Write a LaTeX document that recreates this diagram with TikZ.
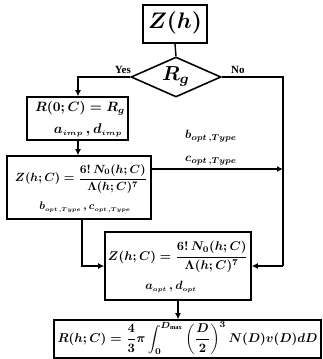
\documentclass[tikz,border=0pt]{standalone}
\usepackage{amsmath}
\usepackage{graphicx}
\usepackage{fontspec}
\setmainfont{Liberation Serif}
\usetikzlibrary{shapes.geometric,arrows.meta}
\newcommand{\fitw}[2]{\resizebox{#1}{!}{\boldmath$\displaystyle #2$}}
\newcommand{\scl}[2]{\scalebox{#1}{\boldmath$#2$}}
\newcommand{\tinysub}[1]{_{\scriptscriptstyle #1}}
\newcommand{\smallsub}[1]{_{\scriptstyle #1}}
\tikzset{
  box/.style={draw, line width=1.6pt, minimum width=#1, inner sep=0pt},
  conn/.style={line width=1.4pt},
  arr/.style={line width=1.4pt, -{Latex[length=6pt,width=6pt]}},
  txt/.style={inner sep=0pt},
  lbl/.style={inner sep=0pt, font=\fontsize{11}{12}\selectfont\bfseries},
}
\begin{document}
\begin{tikzpicture}[x=1pt,y=-1pt]
\useasboundingbox (0,0) rectangle (323,359);
% boxes
\node[box=64pt, minimum height=38pt, line width=2pt] (zh) at (175,24) {};
\node[txt] (zht) at (175,23) {\fitw{54pt}{Z(h)}};
\node[draw, diamond, aspect=2.25, line width=1.6pt, minimum width=90pt, minimum height=40pt, inner sep=0pt] (dia) at (176,77) {};
\node[txt] (rg) at (176,76) {\fitw{28pt}{R_g}};
\node[box=101pt, minimum height=43pt] (r0) at (77.5,118.5) {};
\node[txt] (r0a) at (80,108) {\fitw{90pt}{R(0;C)=R_g}};
\node[txt] (r0b) at (88,130) {\scl{1.4}{a\tinysub{imp}\,,d\tinysub{imp}}};
\node[box=144pt, minimum height=63pt] (z1) at (79,187.5) {};
\node[txt] (z1a) at (81,179) {\fitw{132pt}{Z(h;C)=\frac{6!\,N_0(h;C)}{\Lambda(h;C)^7}}};
\node[txt] (z1b) at (85,207) {\scl{1.1}{b\tinysub{opt\,,Type}\,,c\tinysub{opt\,,Type}}};
\node[box=146pt, minimum height=68pt] (z2) at (178,266) {};
\node[txt] (z2a) at (178,257) {\fitw{140pt}{Z(h;C)=\frac{6!\,N_0(h;C)}{\Lambda(h;C)^7}}};
\node[txt] (z2b) at (171,287) {\scl{1.2}{a\tinysub{opt}\,,d\tinysub{opt}}};
\node[box=267pt, minimum height=38pt] (rr) at (187.5,339) {};
\node[txt] (rrt) at (187.5,338) {\fitw{260pt}{R(h;C)=\frac{4}{3}\pi\int_0^{D_{\max}}\left(\frac{D}{2}\right)^3 N(D)v(D)dD}};
\node[txt] (bl) at (211,136) {\scl{1.2}{b\smallsub{opt\,,Type}}};
\node[txt] (cl) at (211,161) {\scl{1.2}{c\smallsub{opt\,,Type}}};
\node[lbl, anchor=south east] (yes) at (131,74) {Yes};
\node[lbl, anchor=south west] (no) at (231,74) {No};
% connectors
\coordinate (yc) at (78,77);
\coordinate (nc) at (283,77);
\coordinate (lc) at (82,266);
\coordinate (rc) at (283,266);
\coordinate (mc) at (283,169);
\draw[conn] (zh.south) -- (dia.north);
\draw[arr] (dia.west) -- (yc) -- (r0.north -| yc);
\draw[conn] (dia.east) -- (nc) -- (rc);
\draw[arr] (rc) -- (z2.east |- rc);
\draw[arr] (r0.south -| yc) -- (z1.north -| yc);
\draw[arr] (z1.east |- mc) -- (mc);
\draw[arr] (z1.south -| lc) -- (lc) -- (z2.west |- lc);
\draw[arr] (z2.south) -- (rr.north -| z2.south);
\end{tikzpicture}
\end{document}
